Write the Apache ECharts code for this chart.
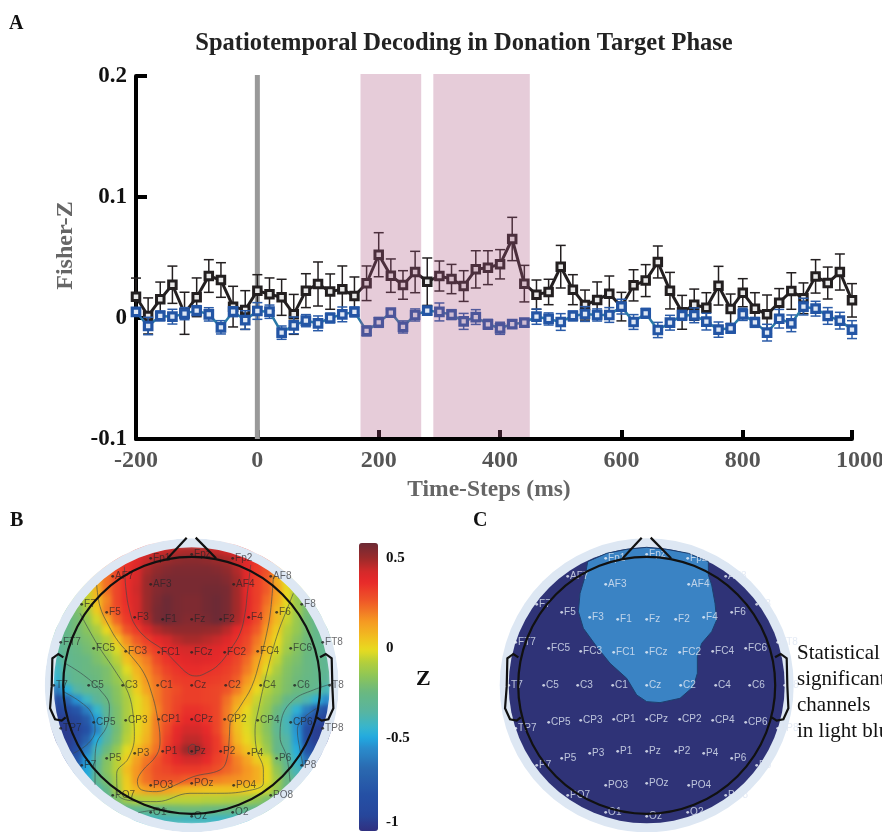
<!DOCTYPE html>
<html><head><meta charset="utf-8">
<style>html,body{margin:0;padding:0;background:#fff;overflow:hidden}#c{width:882px;height:832px;isolation:isolate}canvas[data-zr-dom-id="zr_-1"]{filter:blur(2.5px)}</style>
<script src="https://cdn.jsdelivr.net/npm/echarts@6/dist/echarts.min.js"></script>
</head><body><div id="c"></div>
<script>
const timeSteps=[-200,-180,-160,-140,-120,-100,-80,-60,-40,-20,0,20,40,60,80,100,120,140,160,180,200,220,240,260,280,300,320,340,360,380,400,420,440,460,480,500,520,540,560,580,600,620,640,660,680,700,720,740,760,780,800,820,840,860,880,900,920,940,960,980];
const blackMean=[.0176,.0017,.0154,.0275,.0039,.0171,.0347,.0314,.0094,.0066,.0226,.0196,.0171,.0030,.0226,.0281,.0218,.0237,.0182,.0287,.0523,.0350,.0273,.0380,.0300,.0347,.0322,.0264,.0402,.0416,.0444,.0653,.0284,.0193,.0215,.0424,.0234,.0107,.0149,.0201,.0094,.0270,.0309,.0463,.0226,.0047,.0110,.0085,.0267,.0074,.0209,.0077,.0030,.0127,.0223,.0163,.0344,.0289,.0380,.0146];
const blackErr=[.0154,.0149,.0143,.0154,.0174,.0160,.0135,.0143,.0168,.0160,.0132,.0135,.0149,.0165,.0140,.0182,.0146,.0193,.0157,.0143,.0182,.0138,.0118,.0171,.0196,.0124,.0121,.0127,.0154,.0140,.0121,.0179,.0151,.0121,.0105,.0176,.0124,.0124,.0149,.0146,.0118,.0129,.0132,.0132,.0151,.0140,.0129,.0124,.0160,.0124,.0116,.0132,.0160,.0116,.0151,.0127,.0138,.0132,.0149,.0138];
const blueMean=[.0050,-.0066,.0017,.0011,.0036,.0061,.0030,-.0077,.0052,-.0017,.0058,.0052,-.0121,-.0061,-.0022,-.0044,0,.0030,.0050,-.0107,-.0036,.0044,-.0074,.0025,.0061,.0050,.0028,-.0028,.0008,-.0052,-.0085,-.0050,-.0039,.0011,-.0008,-.0033,.0017,.0033,.0025,.0025,.0094,-.0033,.0039,-.0099,-.0039,.0022,.0022,-.0030,-.0096,-.0085,.0030,-.0036,-.0121,-.0006,-.0044,.0094,.0077,.0017,-.0022,-.0096];
const blueErr=[.0022,.0072,.0041,.0061,.0050,.0041,.0055,.0055,.0041,.0077,.0069,.0055,.0055,.0069,.0050,.0061,.0041,.0061,.0041,.0041,.0041,.0028,.0050,.0050,.0033,.0074,.0041,.0066,.0061,.0041,.0050,.0033,.0033,.0063,.0050,.0069,.0041,.0061,.0050,.0061,.0061,.0061,.0041,.0063,.0061,.0041,.0061,.0069,.0063,.0041,.0050,.0041,.0069,.0077,.0069,.0069,.0061,.0069,.0069,.0074];
const sigBands=[[170,270],[290,449]];
const zField=[
[.36,.4,.42,.44,.46,.47,.47,.46,.44,.42,.4,.36],
[.3,.34,.39,.44,.48,.5,.52,.53,.53,.52,.5,.48,.44,.39,.34,.3],
[.22,.3,.35,.41,.48,.52,.54,.55,.55,.55,.55,.54,.52,.47,.39,.33,.28,.15],
[.12,.22,.3,.36,.42,.5,.54,.56,.56,.56,.56,.56,.56,.54,.49,.39,.32,.26,.1,-.02],
[-.05,.08,.22,.3,.36,.43,.5,.54,.56,.56,.56,.56,.57,.57,.56,.49,.38,.32,.26,.14,0,-.12],
[-.15,-.06,.06,.18,.3,.36,.42,.5,.55,.58,.56,.55,.55,.57,.58,.56,.49,.39,.32,.23,.12,0,-.13,-.22],
[-.25,-.2,-.1,.03,.2,.29,.35,.42,.5,.56,.58,.56,.55,.55,.57,.58,.56,.49,.39,.31,.2,.08,-.03,-.12,-.22,-.28],
[-.28,-.22,-.14,-.04,.1,.24,.33,.39,.48,.56,.58,.56,.54,.54,.56,.58,.55,.48,.37,.3,.18,.07,-.05,-.13,-.23,-.28],
[-.3,-.27,-.22,-.17,-.1,0,.15,.27,.33,.41,.47,.5,.52,.52,.52,.51,.5,.46,.38,.33,.26,.14,.03,-.08,-.14,-.22,-.28,-.3],
[-.32,-.28,-.23,-.2,-.15,-.08,.04,.17,.26,.32,.37,.42,.46,.48,.48,.46,.44,.4,.35,.3,.21,.1,0,-.1,-.17,-.23,-.28,-.3],
[-.33,-.29,-.26,-.22,-.18,-.11,-.03,.1,.2,.27,.32,.37,.4,.42,.42,.41,.39,.36,.33,.28,.18,.07,-.03,-.12,-.18,-.24,-.28,-.3],
[-.38,-.3,-.27,-.25,-.2,-.15,-.07,.05,.14,.2,.29,.34,.37,.39,.4,.39,.37,.34,.3,.23,.12,.03,-.06,-.16,-.2,-.25,-.28,-.31],
[-.42,-.32,-.28,-.25,-.23,-.2,-.12,-.02,.08,.17,.25,.31,.34,.36,.36,.35,.34,.32,.28,.2,.1,-.02,-.1,-.18,-.22,-.25,-.28,-.31],
[-.45,-.34,-.29,-.27,-.24,-.2,-.14,-.06,.05,.15,.22,.28,.32,.33,.33,.33,.32,.3,.25,.15,.05,-.08,-.13,-.19,-.23,-.26,-.28,-.33],
[-.62,-.48,-.36,-.3,-.28,-.23,-.17,-.08,.02,.12,.2,.26,.29,.32,.32,.31,.3,.27,.2,.1,0,-.08,-.14,-.2,-.24,-.27,-.3,-.4],
[-.85,-.7,-.54,-.42,-.33,-.25,-.18,-.1,-.02,.06,.2,.26,.3,.32,.32,.31,.3,.22,.12,.05,-.05,-.12,-.18,-.27,-.32,-.38,-.46,-.56],
[-.93,-.88,-.78,-.6,-.44,-.31,-.2,-.1,-.02,.05,.18,.26,.31,.35,.35,.33,.3,.2,.08,0,-.08,-.14,-.24,-.36,-.46,-.6,-.74,-.82],
[-.97,-.95,-.92,-.76,-.52,-.33,-.2,-.1,-.02,.06,.2,.27,.33,.37,.37,.34,.3,.2,.05,-.03,-.08,-.17,-.28,-.4,-.55,-.74,-.88,-.95],
[-.98,-.97,-.94,-.82,-.58,-.37,-.22,-.09,-.01,.07,.2,.29,.37,.42,.42,.37,.3,.2,.06,-.02,-.08,-.17,-.3,-.39,-.54,-.85,-.96,-.98],
[-.97,-.97,-.92,-.72,-.48,-.34,-.2,-.07,.01,.09,.2,.31,.39,.45,.45,.4,.33,.22,.08,0,-.06,-.15,-.27,-.36,-.52,-.85,-.96,-.97],
[-.96,-.86,-.6,-.4,-.24,-.14,-.02,.06,.14,.22,.33,.43,.5,.5,.42,.33,.25,.13,.05,-.03,-.12,-.27,-.35,-.48,-.8,-.92],
[-.9,-.78,-.52,-.34,-.18,-.07,.02,.13,.21,.27,.33,.38,.42,.42,.37,.31,.27,.19,.12,.03,-.03,-.2,-.31,-.45,-.65,-.78],
[-.68,-.5,-.31,-.17,-.07,.06,.15,.23,.28,.3,.33,.33,.33,.31,.28,.24,.2,.15,.1,0,-.15,-.28,-.4,-.55],
[-.48,-.3,-.2,-.1,.03,.15,.22,.27,.27,.27,.25,.24,.21,.19,.17,.16,.14,.1,0,-.12,-.25,-.35],
[-.38,-.27,-.12,.02,.08,.13,.15,.13,.1,.07,.06,.05,.05,.05,.05,.03,0,-.05,-.15,-.25],
[-.33,-.2,-.12,-.08,-.07,-.07,-.07,-.07,-.07,-.07,-.08,-.08,-.09,-.1,-.12,-.15,-.2,-.28],
[-.35,-.33,-.3,-.28,-.26,-.25,-.24,-.23,-.23,-.24,-.25,-.26,-.27,-.28,-.3,-.33],
[-.42,-.42,-.41,-.4,-.4,-.41,-.41,-.41,-.42,-.42,-.43,-.43]
];
const chanNames=['Fp1','Fpz','Fp2','AF7','AF3','AF4','AF8','F7','F5','F3','F1','Fz','F2','F4','F6','F8','FT7','FC5','FC3','FC1','FCz','FC2','FC4','FC6','FT8','T7','C5','C3','C1','Cz','C2','C4','C6','T8','TP7','CP5','CP3','CP1','CPz','CP2','CP4','CP6','TP8','P7','P5','P3','P1','Pz','P2','P4','P6','P8','PO7','PO3','POz','PO4','PO8','O1','Oz','O2'];
const chanX=[-41,0,41,-79,-41,42,79,-110,-85,-57,-29,0,29,57,85,110,-131,-98,-66,-33,0,33,66,99,131,-138,-103,-69,-34,0,34,69,103,138,-131,-98,-66,-33,0,33,66,99,131,-110,-85,-57,-29,0,29,57,85,110,-79,-41,0,42,79,-41,0,41];
const chanY=[127,131,127,109,101,101,109,81,73,68,66,66,66,68,73,81,43,37,34,33,33,33,34,37,43,0,0,0,0,0,0,0,0,0,-43,-37,-35,-34,-34,-34,-35,-37,-43,-80,-73,-68,-66,-66,-66,-68,-73,-80,-110,-100,-98,-100,-110,-127,-131,-127];
const contours=[
[[373,170],[378,240],[388,300],[405,345],[440,385],[490,420],[530,460],[565,492],[590,498],[620,488],[655,465],[690,420],[720,370],[735,310],[742,250],[752,165]],
[[290,225],[300,290],[325,345],[355,395],[395,440],[432,490],[455,550],[470,610],[480,690],[470,735],[425,785],[412,815],[425,840],[470,845],[520,828],[580,800],[660,780],[680,750],[688,680],[690,640],[720,590],[755,530],[780,450],[800,370],[812,300],[820,200]],
[[240,310],[290,400],[350,490],[385,550],[400,620],[403,680],[385,745],[350,790],[352,850],[400,873],[470,875],[570,850],[650,850],[740,843],[790,820],[790,780],[770,720],[765,660],[775,600],[800,490],[830,380],[860,300],[880,250]],
[[195,460],[250,495],[300,540],[328,590],[320,650],[290,700],[285,760],[285,825]],
[[1000,520],[940,540],[880,570],[845,625],[840,680],[860,740],[870,815]],
[[190,545],[240,575],[275,610],[285,660],[265,700],[220,730]],
[[950,595],[910,625],[892,660],[900,720],[910,770]],
[[415,908],[450,902],[500,897]],
[[565,712],[577,703],[590,712],[588,728],[575,733],[565,725],[565,712]]
];
const noseLeft=[[503,145],[560,83]], noseRight=[[587,83],[648,145]];
const earLeft=[[190,442],[175,432],[157,445],[155,530],[150,595],[165,628],[185,632],[197,622]];
const earRight=[[960,442],[977,432],[995,445],[997,530],[1000,595],[985,628],[965,632],[950,622]];
const sigRegion=[[443,155],[500,130],[560,118],[620,112],[680,118],[745,130],[805,155],[805,195],[815,225],[825,280],[830,330],[815,365],[785,400],[772,440],[772,490],[760,530],[720,565],[660,578],[620,575],[590,555],[560,505],[510,460],[470,410],[430,355],[415,305],[420,250],[435,200]];
const colorVals=[.583,.498,.424,.369,.257,.146,.054,-.011,-.076,-.15,-.243,-.354,-.446,-.502,-.557,-.668,-.817,-.928,-1.017];
const colorHex=['#6b2a35','#9c2a2a','#d42a2a','#e8282a','#ef5a28','#f59a22','#f0c020','#e8dc20','#b5cf3a','#90c655','#6ab880','#58b5a0','#35b5d0','#20a8e0','#2a8ccc','#2a6ab0','#2550a5','#26479c','#303080'];
const colorTicks=[-.97,-.5,0,.5];

const SERIF='"Liberation Serif","Times New Roman",serif', SANS='"Liberation Sans",Arial,sans-serif';
const rgb=h=>[1,3,5].map(i=>parseInt(h.substr(i,2),16));
const ramp=[];
for(let k=0;k<=80;k++){
  const v=-1.017+k/80*1.6;
  let i=colorVals.findIndex(c=>c<=v); if(i<=0)i=1;
  const t=(v-colorVals[i])/(colorVals[i-1]-colorVals[i]);
  const a=rgb(colorHex[i]),b=rgb(colorHex[i-1]);
  ramp.push('rgb('+a.map((q,j)=>Math.round(q+(b[j]-q)*Math.max(0,Math.min(1,t)))).join(',')+')');
}
const heatData=[];
zField.forEach((row,r)=>{const s=(28-row.length)/2;row.forEach((v,c)=>{
  heatData.push([s+c,r,v]);
});});
const headB=([x,y])=>[(x-575)/3,(526-y)/3];
const headC=([x,y])=>[(x-620)/3,(526-y)/3];
const idxLabels=Array.from({length:28},(_,i)=>i);
const chanData=chanNames.map((n,i)=>[chanX[i],chanY[i],n]);
function poly(api,pts,style,closed){
  return {type:closed?'polygon':'polyline',shape:{points:pts.map(p=>api.coord(p))},style:style};
}
function errRender(color){return (params,api)=>{
  const x=api.value(0),lo=api.coord([x,api.value(1)]),hi=api.coord([x,api.value(2)]);
  const st={stroke:color,lineWidth:1.5,fill:null};
  return {type:'group',children:[
    {type:'line',shape:{x1:lo[0],y1:lo[1],x2:hi[0],y2:hi[1]},style:st},
    {type:'line',shape:{x1:lo[0]-5,y1:lo[1],x2:lo[0]+5,y2:lo[1]},style:st},
    {type:'line',shape:{x1:hi[0]-5,y1:hi[1],x2:hi[0]+5,y2:hi[1]},style:st}]};
};}
function headOutline(){return (params,api)=>{
  const c=api.coord([0,0]),r=api.size([128.5,0])[0];
  const st={stroke:'#111',lineWidth:2.2,fill:null};
  return {type:'group',children:[
    {type:'circle',shape:{cx:c[0],cy:c[1],r:r},style:st},
    poly(api,noseLeft.map(headB),st),poly(api,noseRight.map(headB),st),
    poly(api,earLeft.map(headB),st),poly(api,earRight.map(headB),st)]};
};}
function ringRender(color,r0,r1){return (params,api)=>{
  const c=api.coord([0,0]);
  return {type:'ring',shape:{cx:c[0],cy:c[1],r:r1,r0:r0},style:{fill:color}};
};}
const chanLabel=color=>({show:true,position:'right',distance:1,color:color,fontSize:10,fontFamily:SANS,formatter:p=>p.data[2]});

const option={
 animation:false,backgroundColor:'transparent',
 title:[
  {text:'Spatiotemporal Decoding in Donation Target Phase',left:464,top:31,textAlign:'center',padding:0,textStyle:{fontFamily:SERIF,fontWeight:'bold',fontSize:24.5,color:'#222'}},
  {text:'A',left:9,top:14,padding:0,textStyle:{fontFamily:SERIF,fontWeight:'bold',fontSize:20,color:'#111'}},
  {text:'B',left:10,top:511,padding:0,textStyle:{fontFamily:SERIF,fontWeight:'bold',fontSize:20,color:'#111'}},
  {text:'C',left:473,top:511,padding:0,textStyle:{fontFamily:SERIF,fontWeight:'bold',fontSize:20,color:'#111'}},
  {text:'Z',left:416,top:668,padding:0,textStyle:{fontFamily:SERIF,fontWeight:'bold',fontSize:22,color:'#111'}},
  {text:'Statistical\nsignificant\nchannels\nin light blue',left:797,top:640,padding:0,textStyle:{fontFamily:SERIF,fontWeight:'normal',fontSize:21,lineHeight:26,color:'#111'}}
 ],
 grid:[
  {left:136,width:716,top:76,height:363,outerBoundsMode:'none'},
  {left:52,top:545,width:280,height:280,outerBoundsMode:'none'},
  {left:191.7-165,top:685.3-165,width:330,height:330,outerBoundsMode:'none'},
  {left:359,top:543,width:19,height:288,outerBoundsMode:'none'},
  {left:646.7-165,top:685.3-165,width:330,height:330,outerBoundsMode:'none'}
 ],
 xAxis:[
  {type:'value',gridIndex:0,min:-200,max:980,interval:200,name:'Time-Steps (ms)',nameLocation:'middle',nameGap:39,
   nameTextStyle:{fontFamily:SERIF,fontWeight:'bold',fontSize:23.5,color:'#666',padding:[0,10,0,0]},
   axisLine:{onZero:false,lineStyle:{color:'#000',width:4}},
   axisTick:{inside:true,length:9,lineStyle:{color:'#000',width:4}},splitLine:{show:false},
   axisLabel:{margin:10,fontFamily:SERIF,fontWeight:'bold',fontSize:24,color:'#555',hideOverlap:false,
     formatter:v=>v===980?'{m|1000}':String(v),rich:{m:{padding:[0,0,0,16],fontFamily:SERIF,fontWeight:'bold',fontSize:24,color:'#555'}}}},
  {type:'category',gridIndex:1,data:idxLabels,show:false},
  {type:'value',gridIndex:2,min:-165,max:165,show:false},
  {type:'value',gridIndex:3,min:0,max:1,show:false},
  {type:'value',gridIndex:4,min:-165,max:165,show:false}
 ],
 yAxis:[
  {type:'value',gridIndex:0,min:-.1,max:.2,interval:.1,name:'Fisher-Z',nameLocation:'middle',nameGap:58,nameRotate:90,
   nameTextStyle:{fontFamily:SERIF,fontWeight:'bold',fontSize:24,color:'#666',padding:[0,0,0,24]},
   axisLine:{onZero:false,lineStyle:{color:'#000',width:4}},
   axisTick:{inside:true,length:11,lineStyle:{color:'#000',width:4}},splitLine:{show:false},
   axisLabel:{margin:9,fontFamily:SERIF,fontWeight:'bold',fontSize:23,color:'#111',formatter:v=>String(v)}},
  {type:'category',gridIndex:1,data:idxLabels,inverse:true,show:false},
  {type:'value',gridIndex:2,min:-165,max:165,show:false},
  {type:'value',gridIndex:3,min:-1.017,max:.583,position:'right',
   axisLine:{show:false},axisTick:{show:false},splitLine:{show:false},
   axisLabel:{margin:8,fontFamily:SERIF,fontWeight:'bold',fontSize:15,color:'#111',customValues:colorTicks,formatter:v=>v<-.9?'-1':String(v)}},
  {type:'value',gridIndex:4,min:-165,max:165,show:false}
 ],
 visualMap:{type:'continuous',seriesIndex:6,min:-1.017,max:.583,inRange:{color:ramp},left:359,top:543,itemWidth:19,itemHeight:288,padding:0,calculable:false,show:true,text:null,textStyle:{fontSize:0}},
 series:[
  {type:'custom',name:'Stimulus onset',xAxisIndex:0,yAxisIndex:0,z:1,silent:true,data:[[0]],
   renderItem:(p,api)=>{const a=api.coord([api.value(0),.2]),b=api.coord([api.value(0),-.1]);
     return {type:'line',shape:{x1:a[0],y1:a[1]-1,x2:b[0],y2:b[1]},style:{stroke:'#999',lineWidth:5}};}},
  {type:'custom',name:'Black error',xAxisIndex:0,yAxisIndex:0,z:2,silent:true,renderItem:errRender('#231f20'),
   data:timeSteps.map((t,i)=>[t,blackMean[i]-blackErr[i],blackMean[i]+blackErr[i]])},
  {type:'line',name:'Black',xAxisIndex:0,yAxisIndex:0,z:3,data:timeSteps.map((t,i)=>[t,blackMean[i]]),
   lineStyle:{color:'#231f20',width:3},symbol:'rect',symbolSize:7.5,showAllSymbol:true,
   itemStyle:{color:'#e8e8e8',borderColor:'#231f20',borderWidth:3}},
  {type:'custom',name:'Blue error',xAxisIndex:0,yAxisIndex:0,z:4,silent:true,renderItem:errRender('#2a5ba8'),
   data:timeSteps.map((t,i)=>[t,blueMean[i]-blueErr[i],blueMean[i]+blueErr[i]])},
  {type:'line',name:'Blue',xAxisIndex:0,yAxisIndex:0,z:5,data:timeSteps.map((t,i)=>[t,blueMean[i]]),
   lineStyle:{color:'#2a79a8',width:2.5},symbol:'rect',symbolSize:7.5,showAllSymbol:true,
   itemStyle:{color:'#dfe8f5',borderColor:'#2355a5',borderWidth:3.2}},
  {type:'custom',name:'Significant windows',xAxisIndex:0,yAxisIndex:0,z:6,silent:true,data:sigBands,
   renderItem:(p,api)=>{const a=api.coord([api.value(0),.2]),b=api.coord([api.value(1),-.1]);
     return {type:'rect',shape:{x:a[0],y:a[1]-2,width:b[0]-a[0],height:b[1]-a[1]},style:{fill:'rgba(173,87,130,0.3)'}};}},
  {type:'heatmap',name:'Z map',xAxisIndex:1,yAxisIndex:1,zlevel:-1,z:2,data:heatData,silent:true},
  {type:'custom',name:'Scalp ring B',xAxisIndex:2,yAxisIndex:2,z:3,silent:true,data:[[0,0]],
   renderItem:(p,api)=>({type:'group',children:[ringRender('#dde7f3',138,147)(p,api),ringRender('#fff',147,175)(p,api)]})},
  ...contours.map((c,i)=>({type:'line',name:'Contour '+i,xAxisIndex:2,yAxisIndex:2,z:4,silent:true,smooth:.4,symbol:'none',
    data:c.map(headB),lineStyle:{color:'#3c4a4a',width:.8,opacity:.8}})),
  {type:'scatter',name:'Channels B',xAxisIndex:2,yAxisIndex:2,z:5,silent:true,symbolSize:2.8,itemStyle:{color:'#222'},data:chanData,label:chanLabel('rgba(35,35,40,.85)')},
  {type:'custom',name:'Head B',xAxisIndex:2,yAxisIndex:2,z:6,silent:true,data:[[0,0]],renderItem:headOutline()},
  {type:'custom',name:'Scalp C',xAxisIndex:4,yAxisIndex:4,z:2,silent:true,data:[[0,0]],
   renderItem:(p,api)=>{const c=api.coord([0,0]);return {type:'group',children:[
     {type:'circle',shape:{cx:c[0],cy:c[1],r:147},style:{fill:'#dde7f3'}},
     {type:'circle',shape:{cx:c[0],cy:c[1],r:138},style:{fill:'#2f3377'}},
     poly(api,sigRegion.map(headC),{fill:'#3a83c4',stroke:'#1d3f6e',lineWidth:1},true)]};}},
  {type:'scatter',name:'Channels C',xAxisIndex:4,yAxisIndex:4,z:5,silent:true,symbolSize:2.8,itemStyle:{color:'#eef2fa'},data:chanData,label:chanLabel('#dfe6f2')},
  {type:'custom',name:'Head C',xAxisIndex:4,yAxisIndex:4,z:6,silent:true,data:[[0,0]],renderItem:headOutline()}
 ]
};
echarts.init(document.getElementById('c'),null,{renderer:'canvas'}).setOption(option);
</script></body></html>
